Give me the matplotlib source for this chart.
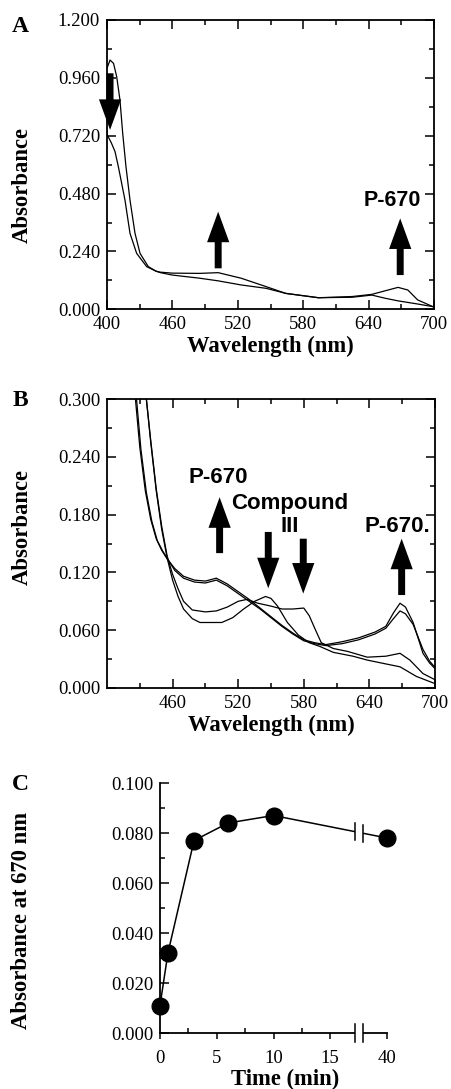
import matplotlib.pyplot as plt
import numpy as np
from matplotlib.patches import Rectangle
from matplotlib.ticker import MultipleLocator, FixedLocator, FormatStrFormatter

plt.rcParams['font.family'] = ['Liberation Serif', 'DejaVu Serif']

# ---- panel A: spectra (wavelength nm, absorbance)
a1_nm = [400, 402.8, 406, 408.9, 411.9, 414.4, 417.4, 421.1, 425.7, 430.3, 437.9, 445, 449,
         460, 485, 502, 523, 546, 564, 594, 625, 643, 655, 667, 685, 699]
a1_abs = [1.00, 1.034, 1.02, 0.965, 0.868, 0.730, 0.592, 0.453, 0.315, 0.232, 0.177, 0.158, 0.152,
          0.142, 0.129, 0.118, 0.101, 0.087, 0.066, 0.048, 0.050, 0.059, 0.046, 0.035, 0.022, 0.011]
a2_nm = [400, 400.3, 404, 407.3, 410.4, 416.5, 421.1, 427.2, 436.4, 445, 449,
         460, 485, 502, 523, 546, 564, 594, 625, 643, 667, 676, 685, 699]
a2_abs = [0.74, 0.723, 0.69, 0.655, 0.592, 0.453, 0.315, 0.232, 0.177, 0.158, 0.154,
          0.150, 0.149, 0.152, 0.129, 0.094, 0.066, 0.048, 0.053, 0.062, 0.091, 0.080, 0.039, 0.011]

# ---- panel B: spectra during reaction
b1_nm = [436, 440, 445, 450, 455, 460, 465, 470, 478, 485, 495, 505, 515, 525, 535, 545, 550,
         556, 565, 575, 585, 595, 607, 625, 638, 655, 668, 683, 699]
b1_abs = [0.300, 0.255, 0.205, 0.165, 0.135, 0.112, 0.095, 0.082, 0.072, 0.068, 0.068, 0.068,
          0.073, 0.082, 0.090, 0.095, 0.093, 0.085, 0.068, 0.055, 0.047, 0.043, 0.037, 0.033,
          0.029, 0.025, 0.022, 0.012, 0.005]
b2_nm = [436, 440, 445, 450, 455, 460, 465, 470, 478, 490, 500, 510, 520, 528, 538, 550, 560,
         570, 580, 585, 590, 596, 607, 620, 638, 655, 668, 677, 689, 701]
b2_abs = [0.300, 0.257, 0.207, 0.168, 0.137, 0.118, 0.103, 0.090, 0.081, 0.079, 0.080, 0.084,
          0.090, 0.092, 0.088, 0.085, 0.082, 0.082, 0.083, 0.075, 0.062, 0.047, 0.041, 0.038,
          0.032, 0.033, 0.036, 0.029, 0.015, 0.008]
b3_nm = [426, 430, 435, 440, 445, 450, 455, 462, 470, 480, 490, 500, 510, 520, 530, 540, 550,
         560, 570, 580, 590, 600, 615, 630, 645, 655, 662, 668, 673, 680, 689, 695, 701]
b3_abs = [0.300, 0.250, 0.205, 0.175, 0.155, 0.143, 0.134, 0.124, 0.116, 0.112, 0.111, 0.114,
          0.108, 0.100, 0.092, 0.083, 0.074, 0.065, 0.057, 0.050, 0.047, 0.045, 0.048, 0.052,
          0.058, 0.064, 0.078, 0.088, 0.084, 0.068, 0.036, 0.026, 0.019]
b4_nm = [427, 431, 436, 441, 446, 451, 456, 462, 470, 480, 490, 500, 510, 520, 530, 540, 550,
         560, 570, 580, 590, 600, 615, 630, 645, 655, 662, 668, 673, 680, 689, 695, 701]
b4_abs = [0.300, 0.248, 0.203, 0.173, 0.153, 0.142, 0.133, 0.122, 0.114, 0.110, 0.109, 0.112,
          0.106, 0.098, 0.090, 0.082, 0.073, 0.064, 0.056, 0.049, 0.046, 0.044, 0.046, 0.050,
          0.056, 0.062, 0.072, 0.080, 0.077, 0.066, 0.040, 0.028, 0.020]

# ---- panel C: absorbance at 670 nm vs time
c_time = [0, 0.7, 3, 6, 10, 40]
c_abs = [0.011, 0.032, 0.077, 0.084, 0.087, 0.078]
c_tick_labels = ['0', '5', '10', '15', '40']

# wavelength ticks
a_xticks = [400, 460, 520, 580, 640, 700]
b_xticks = [460, 520, 580, 640, 700]
minor_xticks = [430, 490, 550, 610, 670]

# annotations: (x, tail y, tip y)
a_arrows = [(402.8, 0.979, 0.744), (502, 0.170, 0.405), (669, 0.142, 0.377)]
b_arrows = [(503, 0.140, 0.198), (547.5, 0.162, 0.1035), (579.5, 0.155, 0.098), (669.5, 0.0965, 0.155)]


def c_pos(t):
    # broken time axis: 40 min drawn at 20
    return [v if v <= 15 else 20 for v in t]


def arrow(ax, x, y0, y1):
    ax.annotate('', xy=(x, y1), xytext=(x, y0),
                arrowprops=dict(arrowstyle='simple,head_width=1.6,head_length=2.2,tail_width=0.5',
                                mutation_scale=10, fc='black', ec='none', shrinkA=0, shrinkB=0))


def style_spec(ax, ymax, ystep, xticks, ylab_y):
    ax.set_xlim(400, 700)
    ax.set_ylim(0, ymax)
    ax.xaxis.set_major_locator(FixedLocator(xticks))
    ax.xaxis.set_minor_locator(FixedLocator(minor_xticks))
    ax.yaxis.set_major_locator(MultipleLocator(ystep))
    ax.yaxis.set_minor_locator(MultipleLocator(ystep / 2))
    ax.yaxis.set_major_formatter(FormatStrFormatter('%.3f'))
    ax.tick_params(which='both', direction='in', top=True, right=True, labelsize=13.5, width=1.1)
    ax.tick_params(which='major', length=6.5, pad=5)
    ax.tick_params(which='minor', length=3.5)
    for s in ax.spines.values():
        s.set_linewidth(1.3)
    ax.set_ylabel('Absorbance', fontsize=16.3, fontweight='bold')
    ax.yaxis.set_label_coords(-0.226, ylab_y)
    ax.set_xlabel('Wavelength (nm)', fontsize=16.3, fontweight='bold', labelpad=2)


fig = plt.figure(figsize=(4.51, 10.89), dpi=100)
letter = dict(fontsize=17, fontweight='bold', ha='center', va='center')

# ---------- A
axA = fig.add_axes([107 / 451, 1 - 309.3 / 1089, 327 / 451, 289.3 / 1089])
axA.plot(a1_nm, a1_abs, color='black', lw=0.9)
axA.plot(a2_nm, a2_abs, color='black', lw=0.9)
style_spec(axA, 1.2, 0.24, a_xticks, 0.43)
for x, y0, y1 in a_arrows:
    arrow(axA, x, y0, y1)
axA.text(662, 0.453, 'P-670', family='Liberation Sans', fontweight='bold', fontsize=15.5,
         ha='center', va='center')
fig.text(20 / 451, 1 - 26 / 1089, 'A', **letter)

# ---------- B
axB = fig.add_axes([107 / 451, 1 - 688 / 1089, 328 / 451, 289 / 1089])
for xs, ys in [(b1_nm, b1_abs), (b2_nm, b2_abs), (b3_nm, b3_abs), (b4_nm, b4_abs)]:
    axB.plot(xs, ys, color='black', lw=0.9)
style_spec(axB, 0.3, 0.06, b_xticks, 0.557)
for x, y0, y1 in b_arrows:
    arrow(axB, x, y0, y1)
sans = dict(family='Liberation Sans', fontweight='bold', fontsize=16, ha='center', va='center')
axB.text(502, 0.218, 'P-670', **sans)
axB.text(567, 0.192, 'Compound', **sans)
axB.text(567, 0.1677, 'III', **sans)
axB.text(665.5, 0.1677, 'P-670.', **sans)
fig.text(20 / 451, 1 - 400 / 1089, 'B', **letter)

# ---------- C
axC = fig.add_axes([160 / 451, 1 - 1033 / 1089, 227 / 451, 250 / 1089])
cx = c_pos(c_time)
axC.plot(cx, c_abs, color='black', lw=1.1, zorder=2)
axC.plot(cx, c_abs, 'o', color='black', ms=12, zorder=5, clip_on=False)
axC.set_xlim(0, 20)
axC.set_ylim(0, 0.1)
axC.xaxis.set_major_locator(FixedLocator([0, 5, 10, 15, 20]))
axC.xaxis.set_minor_locator(FixedLocator([2.5, 7.5, 12.5]))
axC.set_xticklabels(c_tick_labels)
axC.yaxis.set_major_locator(MultipleLocator(0.02))
axC.yaxis.set_minor_locator(MultipleLocator(0.01))
axC.yaxis.set_major_formatter(FormatStrFormatter('%.3f'))
axC.spines['top'].set_visible(False)
axC.spines['right'].set_visible(False)
for s in ['left', 'bottom']:
    axC.spines[s].set_linewidth(1.3)
axC.tick_params(which='both', labelsize=13.5, width=1.1)
axC.tick_params(axis='y', which='both', direction='in')
axC.tick_params(axis='y', which='major', length=6.5, pad=5)
axC.tick_params(axis='y', which='minor', length=3.5)
axC.tick_params(axis='x', which='major', direction='out', length=4, pad=8)
axC.tick_params(axis='x', which='minor', direction='in', length=3.5)
axC.set_ylabel('Absorbance at 670 nm', fontsize=16.3, fontweight='bold')
axC.yaxis.set_label_coords(-0.564, 0.452)
axC.set_xlabel('Time (min)', fontsize=16.3, fontweight='bold')
axC.xaxis.set_label_coords(0.55, -0.144)
fig.text(20 / 451, 1 - 784 / 1089, 'C', **letter)

# axis break between 15 and 40 min
b_lo, b_hi = 17.2, 17.9
axC.add_patch(Rectangle((b_lo, -0.004), b_hi - b_lo, 0.1, facecolor='white', edgecolor='none',
                        zorder=3, clip_on=False))
for bx in (b_lo, b_hi):
    yl = np.interp(bx, cx, c_abs)
    axC.plot([bx, bx], [yl - 0.0035, yl + 0.0035], color='black', lw=1.1, zorder=4)
    axC.plot([bx, bx], [-0.0035, 0.0035], color='black', lw=1.1, zorder=4, clip_on=False)

fig.savefig('out.png', dpi=100)
